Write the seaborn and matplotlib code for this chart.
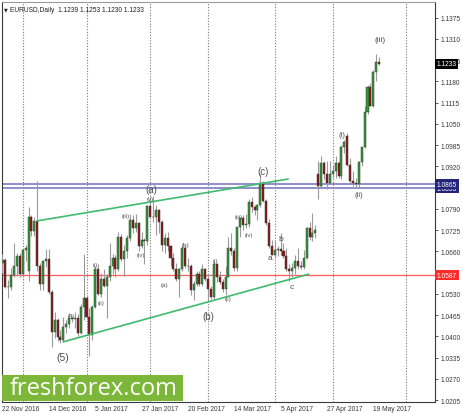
import numpy as np
import pandas as pd
import matplotlib
matplotlib.use("Agg")
import matplotlib.pyplot as plt
from matplotlib.patches import Rectangle
import seaborn as sns

# EURUSD daily bars, 22 Nov 2016 -> 23 May 2017
opens = [1.0625, 1.0632, 1.0552, 1.0550, 1.0588, 1.0615, 1.0646, 1.0589, 1.0663, 1.0600,
         1.0764, 1.0722, 1.0752, 1.0614, 1.0560, 1.0630, 1.0635, 1.0535, 1.0412, 1.0450,
         1.0397, 1.0390, 1.0428, 1.0437, 1.0456, 1.0452, 1.0455, 1.0410, 1.0490, 1.0518,
         1.0460, 1.0405, 1.0490, 1.0605, 1.0530, 1.0575, 1.0555, 1.0580, 1.0615, 1.0640,
         1.0605, 1.0705, 1.0635, 1.0660, 1.0700, 1.0755, 1.0730, 1.0745, 1.0675, 1.0695,
         1.0690, 1.0798, 1.0765, 1.0765, 1.0785, 1.0750, 1.0680, 1.0700, 1.0675, 1.0640,
         1.0605, 1.0575, 1.0605, 1.0670, 1.0615, 1.0615, 1.0540, 1.0560, 1.0590, 1.0560,
         1.0605, 1.0575, 1.0545, 1.0520, 1.0620, 1.0580, 1.0565, 1.0545, 1.0580, 1.0670,
         1.0660, 1.0610, 1.0735, 1.0762, 1.0740, 1.0742, 1.0810, 1.0795, 1.0785, 1.0800,
         1.0870, 1.0815, 1.0745, 1.0675, 1.0650, 1.0665, 1.0668, 1.0660, 1.0645, 1.0605,
         1.0600, 1.0610, 1.0630, 1.0615, 1.0612, 1.0640, 1.0730, 1.0705, 1.0715, 1.0897,
         1.0860, 1.0930, 1.0895, 1.0870, 1.0895, 1.0905, 1.0930, 1.0890, 1.0980, 1.1012,
         1.0925, 1.0875, 1.0870, 1.0865, 1.0932, 1.0978, 1.1085, 1.1162, 1.1105, 1.1208,
         1.1239]
highs = [1.0652, 1.0640, 1.0572, 1.0610, 1.0686, 1.0655, 1.0654, 1.0665, 1.0678, 1.0796,
         1.0772, 1.0766, 1.0874, 1.0624, 1.0632, 1.0668, 1.0668, 1.0540, 1.0473, 1.0456,
         1.0420, 1.0460, 1.0450, 1.0470, 1.0462, 1.0473, 1.0469, 1.0498, 1.0652, 1.0525,
         1.0486, 1.0497, 1.0615, 1.0620, 1.0595, 1.0605, 1.0590, 1.0685, 1.0652, 1.0650,
         1.0720, 1.0712, 1.0680, 1.0710, 1.0775, 1.0770, 1.0775, 1.0750, 1.0720, 1.0700,
         1.0800, 1.0825, 1.0829, 1.0800, 1.0790, 1.0755, 1.0715, 1.0720, 1.0680, 1.0655,
         1.0625, 1.0610, 1.0680, 1.0680, 1.0640, 1.0620, 1.0570, 1.0600, 1.0600, 1.0620,
         1.0610, 1.0590, 1.0555, 1.0630, 1.0625, 1.0600, 1.0575, 1.0615, 1.0705, 1.0715,
         1.0670, 1.0735, 1.0765, 1.0770, 1.0775, 1.0820, 1.0825, 1.0800, 1.0805, 1.0897,
         1.0875, 1.0820, 1.0760, 1.0695, 1.0690, 1.0675, 1.0715, 1.0685, 1.0670, 1.0620,
         1.0625, 1.0650, 1.0670, 1.0630, 1.0665, 1.0735, 1.0750, 1.0778, 1.0740, 1.0935,
         1.0950, 1.0935, 1.0935, 1.0935, 1.0925, 1.0950, 1.0935, 1.0985, 1.1000, 1.1023,
         1.0945, 1.0905, 1.0885, 1.0935, 1.0980, 1.1105, 1.1170, 1.1175, 1.1215, 1.1264,
         1.1253]
lows = [1.0595, 1.0547, 1.0518, 1.0540, 1.0580, 1.0583, 1.0581, 1.0580, 1.0630, 1.0570,
        1.0706, 1.0707, 1.0600, 1.0540, 1.0540, 1.0612, 1.0528, 1.0367, 1.0395, 1.0385,
        1.0380, 1.0383, 1.0410, 1.0425, 1.0443, 1.0424, 1.0400, 1.0407, 1.0450, 1.0454,
        1.0341, 1.0390, 1.0485, 1.0525, 1.0520, 1.0550, 1.0455, 1.0570, 1.0590, 1.0580,
        1.0600, 1.0630, 1.0585, 1.0640, 1.0690, 1.0715, 1.0720, 1.0660, 1.0670, 1.0620,
        1.0680, 1.0765, 1.0750, 1.0710, 1.0715, 1.0660, 1.0655, 1.0660, 1.0615, 1.0600,
        1.0570, 1.0520, 1.0600, 1.0610, 1.0600, 1.0525, 1.0510, 1.0555, 1.0555, 1.0555,
        1.0570, 1.0505, 1.0515, 1.0515, 1.0565, 1.0560, 1.0535, 1.0525, 1.0580, 1.0650,
        1.0600, 1.0600, 1.0705, 1.0725, 1.0730, 1.0735, 1.0780, 1.0770, 1.0755, 1.0795,
        1.0810, 1.0740, 1.0670, 1.0650, 1.0640, 1.0645, 1.0650, 1.0640, 1.0600, 1.0570,
        1.0580, 1.0590, 1.0605, 1.0605, 1.0605, 1.0635, 1.0695, 1.0690, 1.0700, 1.0820,
        1.0855, 1.0880, 1.0850, 1.0865, 1.0885, 1.0885, 1.0885, 1.0880, 1.0960, 1.0920,
        1.0870, 1.0860, 1.0852, 1.0855, 1.0920, 1.0975, 1.1080, 1.1105, 1.1100, 1.1180,
        1.1230]
closes = [1.0632, 1.0552, 1.0550, 1.0588, 1.0615, 1.0646, 1.0589, 1.0663, 1.0670, 1.0764,
          1.0722, 1.0752, 1.0614, 1.0560, 1.0630, 1.0635, 1.0535, 1.0412, 1.0450, 1.0397,
          1.0390, 1.0428, 1.0437, 1.0456, 1.0452, 1.0455, 1.0410, 1.0490, 1.0518, 1.0460,
          1.0405, 1.0490, 1.0605, 1.0530, 1.0575, 1.0555, 1.0580, 1.0615, 1.0640, 1.0605,
          1.0705, 1.0635, 1.0660, 1.0700, 1.0755, 1.0730, 1.0745, 1.0675, 1.0695, 1.0690,
          1.0798, 1.0765, 1.0765, 1.0785, 1.0750, 1.0680, 1.0700, 1.0675, 1.0640, 1.0605,
          1.0575, 1.0605, 1.0670, 1.0615, 1.0615, 1.0540, 1.0560, 1.0590, 1.0560, 1.0605,
          1.0575, 1.0545, 1.0520, 1.0620, 1.0580, 1.0565, 1.0545, 1.0580, 1.0670, 1.0660,
          1.0610, 1.0735, 1.0762, 1.0740, 1.0742, 1.0810, 1.0795, 1.0785, 1.0800, 1.0870,
          1.0815, 1.0745, 1.0675, 1.0650, 1.0665, 1.0668, 1.0660, 1.0645, 1.0605, 1.0600,
          1.0610, 1.0630, 1.0615, 1.0612, 1.0640, 1.0730, 1.0705, 1.0715, 1.0725, 1.0860,
          1.0930, 1.0895, 1.0870, 1.0895, 1.0905, 1.0930, 1.0890, 1.0980, 1.0995, 1.0925,
          1.0875, 1.0870, 1.0865, 1.0932, 1.0978, 1.1085, 1.1162, 1.1105, 1.1208, 1.1239,
          1.1233]

date_labels = ["22 Nov 2016", "14 Dec 2016", "5 Jan 2017", "27 Jan 2017", "20 Feb 2017",
               "14 Mar 2017", "5 Apr 2017", "27 Apr 2017", "19 May 2017"]
date_label_bars = [0, 16, 32, 48, 64, 80, 96, 112, 128]
month_sep_bars = [7, 29, 51, 71, 94, 114, 139.3]

# trend lines / levels
upper_line_bars = [12, 98.6]
upper_line_prices = [1.0753, 1.0881]
lower_line_bars = [21, 105.7]
lower_line_prices = [1.0383, 1.0590]
support_level = 1.0587
resist_levels = [1.0865, 1.0853]
last_price = 1.1233

# wave labels: (text, bar, price, size)
wave_labels = [
    ("(5)", 20.9, 1.0337, 7.5), ("(a)", 51.2, 1.0851, 7.0), ("(b)", 70.9, 1.0463, 7.0),
    ("(c)", 89.9, 1.0906, 7.0), ("(iii)", 130.3, 1.1307, 6.0), ("(i)", 117.1, 1.1017, 5.5),
    ("(ii)", 123.1, 1.0835, 5.5), ("a", 92.2, 1.0642, 6.0), ("b", 96.2, 1.0700, 6.0),
    ("c", 100.0, 1.0553, 6.0),
    ("(i)", 32.2, 1.0618, 4.2), ("(ii)", 34.0, 1.0504, 4.2), ("(iii)", 42.5, 1.0769, 4.2),
    ("(iv)", 47.9, 1.0649, 4.2), ("(v)", 51.0, 1.0822, 4.2), ("(4)", 23.6, 1.0463, 4.2),
    ("(a)", 56.0, 1.0557, 4.5), ("(b)", 63.2, 1.0680, 4.5),
    ("(i)", 73.3, 1.0631, 4.2), ("(ii)", 77.8, 1.0514, 4.2), ("(iii)", 81.6, 1.0767, 4.2),
    ("(iv)", 85.0, 1.0710, 4.2),
]

df = pd.DataFrame({"open": opens, "high": highs, "low": lows, "close": closes})
df["bar"] = np.arange(len(df))
df["up"] = df["close"] >= df["open"]
df["body_low"] = df[["open", "close"]].min(axis=1)
df["body_h"] = (df["close"] - df["open"]).abs().clip(lower=0.00008)

sns.set_style("white")
plt.rcParams["font.family"] = ["Liberation Sans", "DejaVu Sans"]

fig = plt.figure(figsize=(4.64, 4.14), dpi=100)
ax = fig.add_axes([2 / 464, 11 / 414, 433 / 464, 400 / 414])

# candles
ax.vlines(df["bar"], df["low"], df["high"], color="#9a9a9a", linewidth=0.8, zorder=3)
body_colors = np.where(df["up"], "#2f9a34", "#8c1515")
ax.bar(df["bar"], df["body_h"], bottom=df["body_low"], width=0.7, color=body_colors,
       edgecolor="#3c3c3c", linewidth=0.35, zorder=4)

# month separators
for b in month_sep_bars:
    ax.axvline(b, color="#7a7a7a", linewidth=0.8, linestyle=(0, (1, 1.5)), zorder=1)

# horizontal levels
ax.axhline(support_level, color="#ff5b5b", linewidth=0.9, zorder=2)
for lvl in resist_levels:
    ax.axhline(lvl, color="#8686c6", linewidth=1.3, zorder=2)

# channel lines
sns.lineplot(x=upper_line_bars, y=upper_line_prices, color="#3fbb6c", linewidth=1.2, ax=ax, zorder=5)
sns.lineplot(x=lower_line_bars, y=lower_line_prices, color="#3fbb6c", linewidth=1.2, ax=ax, zorder=5)

for txt, b, p, s in wave_labels:
    ax.text(b, p, txt, fontsize=s, color="#505050", ha="center", va="center", zorder=6)

# axes
ax.set_xlim(-0.17, 149.3)
ax.set_ylim(1.01989, 1.14225)
yticks = [round(1.0205 + 0.0065 * k, 4) for k in range(19)]
# labels sitting under the price tags are hidden, as in the terminal
hidden = [1.0595, 1.0855]
ax.yaxis.tick_right()
ax.set_yticks(yticks)
ax.set_yticklabels(["" if v in hidden else f"{v:.4f}" for v in yticks])
ax.set_xticks(date_label_bars)
ax.set_xticklabels(date_labels)
for lbl in ax.get_xticklabels():
    lbl.set_horizontalalignment("left")
ax.tick_params(axis="y", labelsize=4.8, length=2, width=0.6, pad=2, colors="#3a3a3a")
ax.tick_params(axis="x", labelsize=4.8, length=1.5, width=0.6, pad=0.5, colors="#3a3a3a")
ax.set_xlabel("")
ax.set_ylabel("")
for side in ["left", "right", "bottom"]:
    ax.spines[side].set_color("#3a3a3a")
    ax.spines[side].set_linewidth(0.8)
ax.spines["top"].set_color("#9a9a9a")
ax.spines["top"].set_linewidth(0.8)

# price tags on the right axis
ytr = ax.get_yaxis_transform()
tag = dict(fontsize=4.8, color="white", ha="left", va="center", clip_on=False, zorder=10)
ax.text(1.004, resist_levels[1], f"{resist_levels[1]:.4f}", transform=ytr,
        bbox=dict(boxstyle="square,pad=0.25", fc="#24247a", ec="none"), **tag)
ax.text(1.004, resist_levels[0], f"{resist_levels[0]:.4f}", transform=ytr,
        bbox=dict(boxstyle="square,pad=0.25", fc="#24247a", ec="none"), **tag)
ax.text(1.004, support_level, f"{support_level:.4f}", transform=ytr,
        bbox=dict(boxstyle="square,pad=0.25", fc="#ff2a2a", ec="none"), **tag)
ax.text(1.004, last_price, f"{last_price:.4f}", transform=ytr,
        bbox=dict(boxstyle="square,pad=0.25", fc="black", ec="none"), **tag)

# header
ax.text(0.004, 0.99, "\u25BC", transform=ax.transAxes, fontsize=3.5, color="#222222",
        va="top", ha="left", family="DejaVu Sans")
ax.text(0.018, 0.991, "EURUSD,Daily  1.1239 1.1253 1.1230 1.1233", transform=ax.transAxes,
        fontsize=4.8, color="#222222", va="top", ha="left")

# logo banner
fig.patches.append(Rectangle((2 / 464, 12 / 414), 181 / 464, 26 / 414,
                             transform=fig.transFigure, facecolor="#7db73a",
                             edgecolor="none", zorder=20))
fig.text(10 / 464, 25 / 414, "freshforex.com", color="white", fontsize=17,
         family="Open Sans", va="center", ha="left", zorder=21)

fig.savefig("out.png", dpi=100, facecolor="white")
